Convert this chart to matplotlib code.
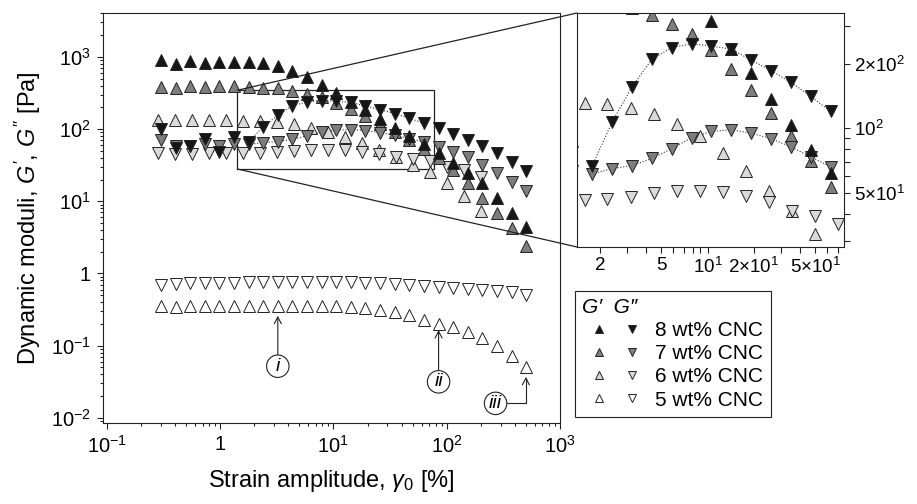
import numpy as np
import matplotlib
matplotlib.use('Agg')
import matplotlib.pyplot as plt
from matplotlib import ticker
from matplotlib.patches import Rectangle, ConnectionPatch
from matplotlib.lines import Line2D
from matplotlib.legend_handler import HandlerTuple

plt.rcParams['font.family'] = ['Liberation Sans', 'DejaVu Sans']
plt.rcParams['mathtext.fontset'] = 'custom'
plt.rcParams['mathtext.rm'] = 'Liberation Sans'
plt.rcParams['mathtext.it'] = 'Liberation Sans:italic'

# strain amplitudes [%]
strain_a = [0.3, 0.404, 0.543, 0.731, 0.984, 1.325, 1.783, 2.40, 3.23, 4.35, 5.85, 7.88, 10.6,
            14.3, 19.2, 25.8, 34.8, 46.8, 63.0, 84.8, 114, 154, 207, 278, 375, 500]
strain_b = [0.282, 0.398, 0.563, 0.795, 1.12, 1.59, 2.24, 3.17, 4.47, 6.31, 8.91, 12.6, 17.8,
            25.1, 35.5, 50.1, 70.8, 100, 141, 199]

# G' and G'' [Pa]
g1_8 = [900, 800, 870, 820, 850, 850, 850, 815, 745, 640, 530, 407, 315, 234, 182, 137, 104,
        79, 62, 46.5, 33.8, 24.8, 17.9, 11.1, 6.9, 4.4]
g2_8 = [99, 55, 58, 74, 48.5, 78, 67, 107, 156, 210, 238, 248, 242, 234, 208, 186, 164, 141,
        120, 102, 85, 70, 58, 46.5, 35, 26.4]
g1_7 = [385, 375, 394, 385, 392, 392, 378, 375, 365, 339, 307, 274, 232, 189, 151, 118, 92,
        70.6, 53.5, 39.6, 27.0, 18.0, 11.1, 6.9, 4.2, 2.4]
g2_7 = [70.5, 58, 58, 63, 58, 63, 61.3, 65, 67, 72.4, 80.5, 90.5, 96.8, 98.6, 95, 89.6, 82,
        73.7, 66.2, 57, 48.5, 41, 31.7, 24.6, 18.6, 13.8]
g1_6 = [133, 133, 134, 133, 133, 131, 130, 125, 117, 105, 91.8, 77.2, 63.3, 51.1, 41.3, 32.2,
        25.6, 18.0, 11.8, 7.4]
g2_6 = [46, 45, 45, 46, 46, 46.4, 46.9, 48.1, 49.9, 51.2, 51.2, 50.7, 48.5, 45.6, 41.3, 39.1,
        36.0, 30, 27, 22]
g1_5 = [0.35, 0.345, 0.35, 0.35, 0.35, 0.35, 0.35, 0.35, 0.35, 0.35, 0.35, 0.35, 0.35, 0.345,
        0.33, 0.31, 0.29, 0.27, 0.23, 0.20, 0.18, 0.155, 0.126, 0.098, 0.071, 0.050]
g2_5 = [0.70, 0.72, 0.73, 0.74, 0.75, 0.75, 0.76, 0.76, 0.77, 0.77, 0.77, 0.77, 0.77, 0.76,
        0.75, 0.73, 0.71, 0.69, 0.67, 0.65, 0.63, 0.61, 0.59, 0.57, 0.55, 0.51]

labels = ['8 wt% CNC', '7 wt% CNC', '6 wt% CNC', '5 wt% CNC']
fills = ['#161616', '#7d7d7d', '#dadada', 'white']

edge = '#222222'
W, H = 917, 504
fig = plt.figure(figsize=(W / 100, H / 100), dpi=100)
ax = fig.add_axes([102.7 / W, (H - 423) / H, (560 - 102.7) / W, (423 - 13) / H])
axins = fig.add_axes([577 / W, (H - 247) / H, (844 - 577) / W, (247 - 13) / H])

series = [(strain_a, g1_5, g2_5, fills[3]), (strain_b, g1_6, g2_6, fills[2]),
          (strain_a, g1_7, g2_7, fills[1]), (strain_a, g1_8, g2_8, fills[0])]

for a in (ax, axins):
    for x, g1, g2, fc in series:
        a.plot(x, g1, '^', ls='none', ms=8.2, mfc=fc, mec=edge, mew=0.7)
        a.plot(x, g2, 'v', ls='none', ms=8.2, mfc=fc, mec=edge, mew=0.7)
    # dotted guide curves through G'' of 8 and 7 wt%
    for g2 in (g2_8, g2_7):
        a.plot(strain_a[6:19], g2[6:19], ls=(0, (1, 1.6)), lw=0.8, color='#333333', zorder=1)

# main axes
ax.set_xscale('log')
ax.set_yscale('log')
ax.set_xlim(0.092, 1000)
ax.set_ylim(0.0085, 4050)


def log_fmt(v, pos):
    e = int(round(np.log10(v)))
    if e == 0:
        return '1'
    return r'$\mathdefault{10^{%d}}$' % e


for axis in (ax.xaxis, ax.yaxis):
    axis.set_major_locator(ticker.LogLocator(base=10, numticks=20))
    axis.set_minor_locator(ticker.LogLocator(base=10, subs=np.arange(2, 10), numticks=20))
    axis.set_major_formatter(ticker.FuncFormatter(log_fmt))
    axis.set_minor_formatter(ticker.NullFormatter())
ax.tick_params(which='both', direction='out', top=False, right=False, width=0.8, color=edge,
               labelsize=14.5)
ax.tick_params(which='major', length=4.5, pad=4)
ax.tick_params(which='minor', length=2.5)
for s in ax.spines.values():
    s.set_linewidth(0.8)
    s.set_color(edge)

ax.set_xlabel(r'Strain amplitude, $\gamma_0$ [%]', fontsize=17, labelpad=8)
ax.set_ylabel(r"Dynamic moduli, $G'$, $G''$ [Pa]", fontsize=17, labelpad=6)

# zoom region
xr = (1.42, 77)
yr = (28, 345)
ax.add_patch(Rectangle((xr[0], yr[0]), xr[1] - xr[0], yr[1] - yr[0], fill=False,
                       ec=edge, lw=0.9, zorder=0))
for ya, yb in ((yr[1], 1), (yr[0], 0)):
    con = ConnectionPatch(xyA=(xr[0], ya), coordsA=ax.transData, xyB=(0, yb),
                          coordsB=axins.transAxes, color=edge, lw=0.9)
    fig.add_artist(con)

# annotations
circ = dict(boxstyle='circle,pad=0.14', fc='white', ec=edge, lw=0.8)
arr = dict(arrowstyle='->,head_length=0.35,head_width=0.18', lw=0.8, color=edge,
           shrinkA=0, shrinkB=0)
ax.annotate('i', xy=(3.23, 0.26), xytext=(3.23, 0.052), ha='center', va='center',
            fontsize=14, style='italic', bbox=circ, arrowprops=arr)
ax.annotate('ii', xy=(84.8, 0.165), xytext=(84.8, 0.0316), ha='center', va='center',
            fontsize=14, style='italic', bbox=circ, arrowprops=arr)
arr3 = dict(arr, connectionstyle='angle,angleA=0,angleB=90,rad=0')
ax.annotate('iii', xy=(500, 0.037), xytext=(270, 0.0159), ha='center', va='center',
            fontsize=14, style='italic', bbox=circ, arrowprops=arr3)

# inset axes
axins.set_xscale('log')
axins.set_yscale('log')
axins.set_xlim(*xr)
axins.set_ylim(*yr)
axins.xaxis.set_major_locator(ticker.FixedLocator([2, 5, 10, 20, 50]))
axins.xaxis.set_major_formatter(ticker.FixedFormatter(
    ['2', '5', r'$\mathdefault{10^{1}}$', r'$\mathdefault{2{\times}10^{1}}$',
     r'$\mathdefault{5{\times}10^{1}}$']))
axins.xaxis.set_minor_locator(ticker.FixedLocator([3, 4, 6, 7, 8, 9, 30, 40, 60, 70]))
axins.xaxis.set_minor_formatter(ticker.NullFormatter())
axins.yaxis.set_major_locator(ticker.FixedLocator([50, 100, 200]))
axins.yaxis.set_major_formatter(ticker.FixedFormatter(
    [r'$\mathdefault{5{\times}10^{1}}$', r'$\mathdefault{10^{2}}$',
     r'$\mathdefault{2{\times}10^{2}}$']))
axins.yaxis.set_minor_locator(ticker.FixedLocator([30, 40, 60, 70, 80, 90, 300]))
axins.yaxis.set_minor_formatter(ticker.NullFormatter())
axins.yaxis.tick_right()
axins.tick_params(which='both', direction='out', left=False, top=False, right=True,
                  width=0.8, color=edge, labelsize=13.5)
axins.tick_params(which='major', length=4, pad=3)
axins.tick_params(which='minor', length=4)
for s in axins.spines.values():
    s.set_linewidth(0.8)
    s.set_color(edge)

# legend
handles = []
for fc in fills:
    up = Line2D([], [], marker='^', ls='none', ms=6, mfc=fc, mec=edge, mew=0.7)
    dn = Line2D([], [], marker='v', ls='none', ms=6, mfc=fc, mec=edge, mew=0.7)
    handles.append((up, dn))
leg = fig.legend(handles, labels, handler_map={tuple: HandlerTuple(ndivide=None, pad=0)},
                 loc='upper left', bbox_to_anchor=(575 / W, 1 - 290.7 / H), borderaxespad=0,
                 title="G\u2032  G\u2033", title_fontproperties={'style': 'italic', 'size': 15},
                 alignment='left', fontsize=15, numpoints=1, handlelength=3.2,
                 handletextpad=0.3, labelspacing=0.2, borderpad=0.35, fancybox=False,
                 framealpha=1, edgecolor=edge)
leg.get_frame().set_linewidth(0.8)

fig.savefig('out.png', dpi=100)
